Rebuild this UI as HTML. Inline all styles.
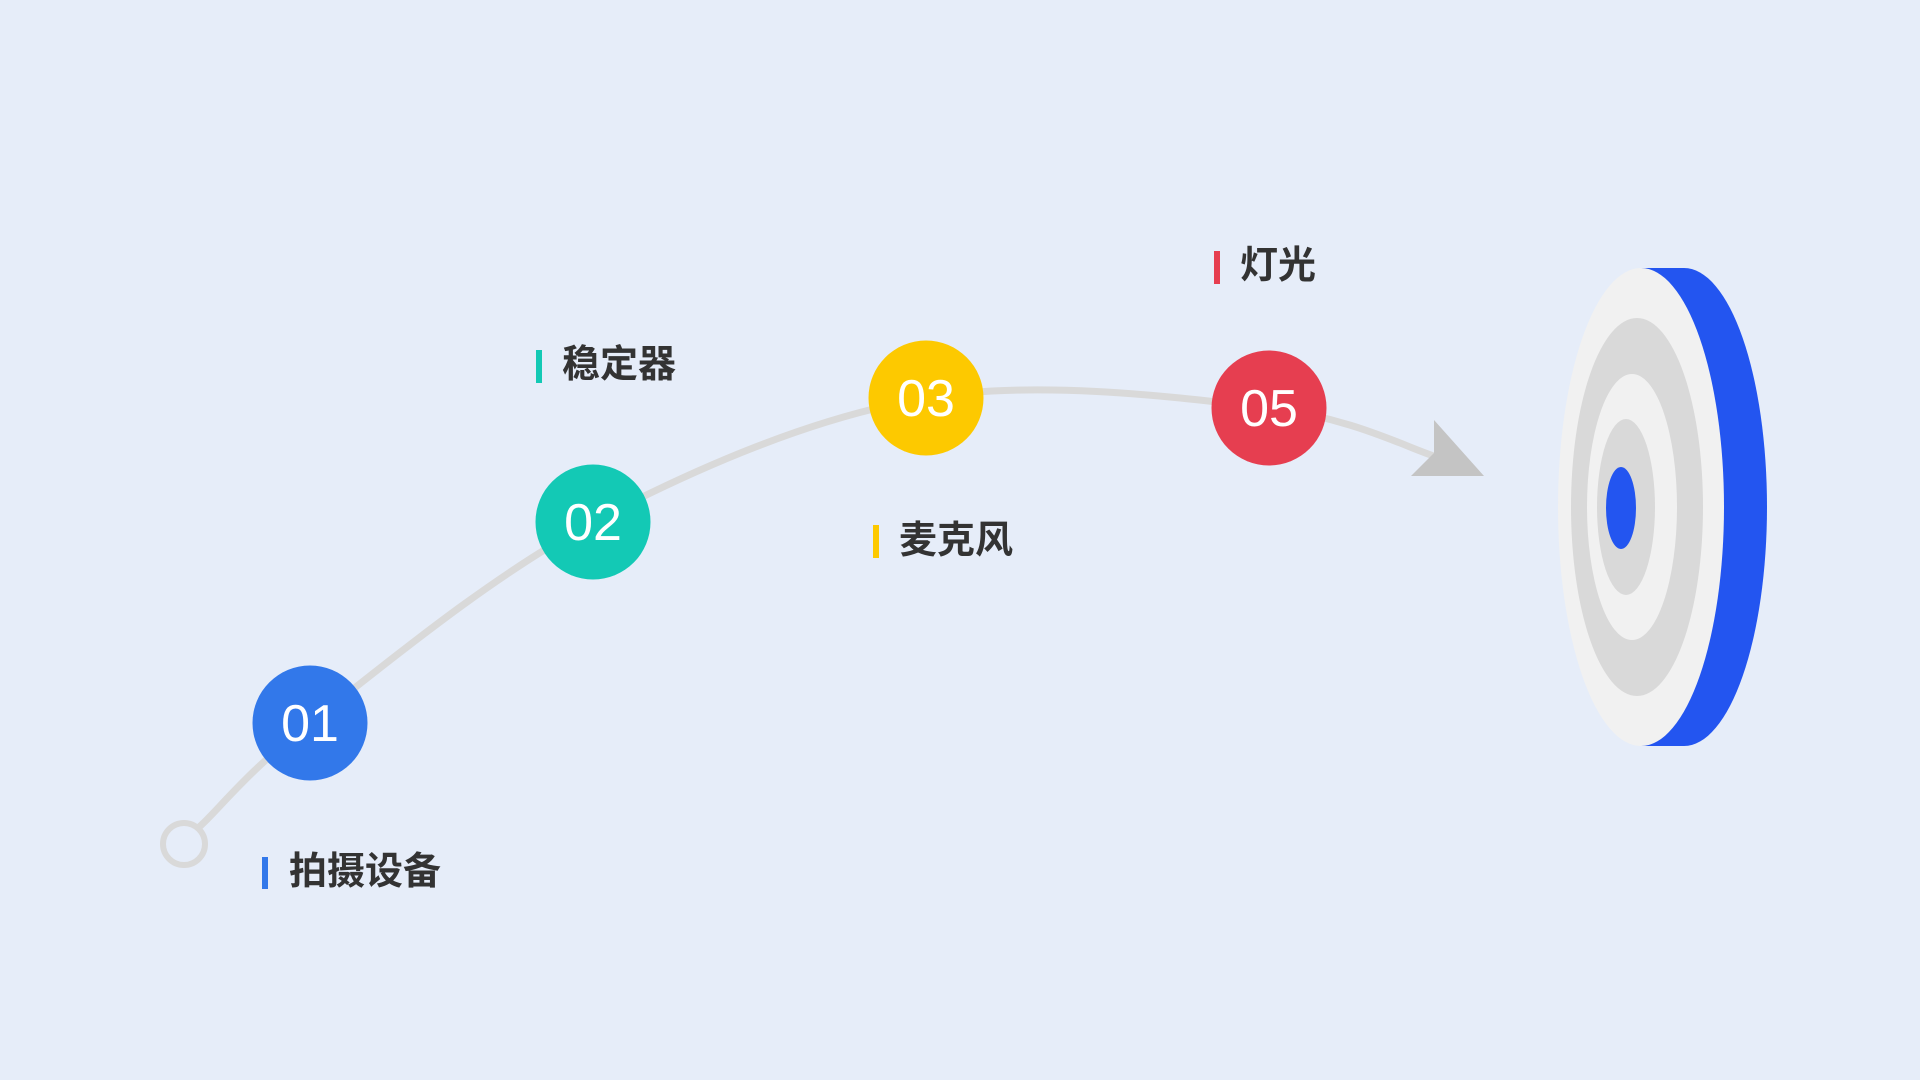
<!DOCTYPE html>
<html><head><meta charset="utf-8"><style>
html,body{margin:0;padding:0;background:#e6edf9;}
svg{display:block}
</style></head><body>
<svg width="1920" height="1080" viewBox="0 0 1920 1080" xmlns="http://www.w3.org/2000/svg">
<rect width="1920" height="1080" fill="#e6edf9"/>
<path d="M198,828 C217,812 244,774 310,723 C376,672 490,576 593,522 C696,468 813,417 926,398 C1039,379 1183,398 1269,408 C1355,418 1411,450 1440,458" fill="none" stroke="#d9d9d9" stroke-width="7"/>
<circle cx="184" cy="844" r="21" fill="none" stroke="#d9d9d9" stroke-width="6"/>
<polygon points="1434,420 1484,476 1411,476 1434,453" fill="#c4c4c4"/>
<g font-family="Liberation Sans, sans-serif" font-size="52" fill="#fff" text-anchor="middle">
<circle cx="310" cy="723" r="57.5" fill="#3278ea"/><text x="310" y="741">01</text>
<circle cx="593" cy="522" r="57.5" fill="#13c9b5"/><text x="593" y="540">02</text>
<circle cx="926" cy="398" r="57.5" fill="#fdc900"/><text x="926" y="416">03</text>
<circle cx="1269" cy="408" r="57.5" fill="#e63e50"/><text x="1269" y="426">05</text>
</g>
<g font-family="Liberation Sans, 'Noto Sans CJK SC', sans-serif" font-size="38" font-weight="bold" fill="#333">
<rect x="262" y="857" width="6" height="32" fill="#3278ea"/><text x="289" y="884">拍摄设备</text>
<rect x="536" y="350" width="6" height="33" fill="#13c9b5"/><text x="562" y="377">稳定器</text>
<rect x="873" y="525" width="6" height="33" fill="#fdc900"/><text x="899" y="553">麦克风</text>
<rect x="1214" y="251" width="6" height="33" fill="#e63e50"/><text x="1240" y="278">灯光</text>
</g>
<ellipse cx="1684" cy="507" rx="83" ry="239" fill="#2355f0"/>
<rect x="1641" y="268" width="43" height="478" fill="#2355f0"/>
<ellipse cx="1641" cy="507" rx="83" ry="239" fill="#f1f1f1"/>
<ellipse cx="1637" cy="507" rx="66" ry="189" fill="#d9d9d9"/>
<ellipse cx="1632" cy="507" rx="45" ry="133" fill="#f1f1f1"/>
<ellipse cx="1626" cy="507" rx="29" ry="88" fill="#d9d9d9"/>
<ellipse cx="1621" cy="508" rx="15" ry="41" fill="#2355f0"/>
</svg>
</body></html>
